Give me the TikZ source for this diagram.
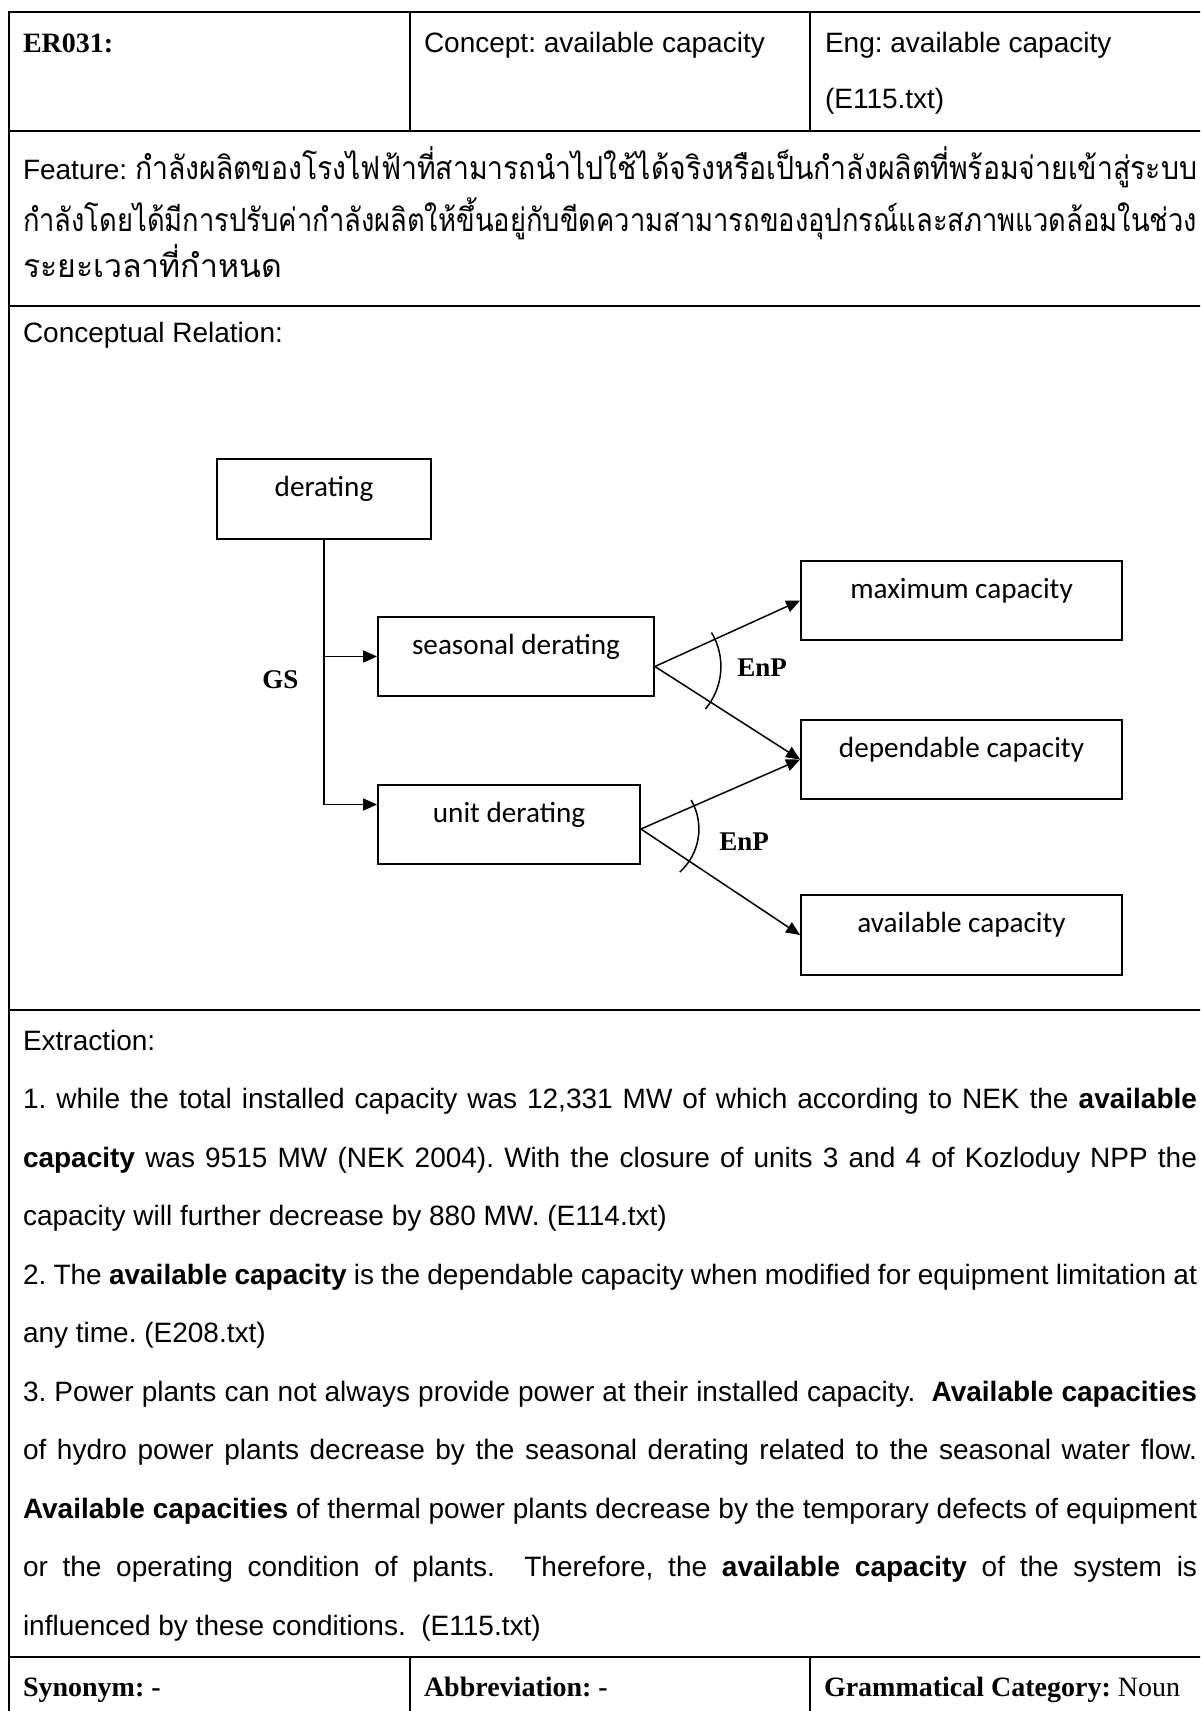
\documentclass[tikz,border=0pt]{standalone}
\usepackage{fontspec}
\usepackage{graphicx}
\usetikzlibrary{arrows.meta,calc}
\setmainfont{Liberation Sans}
\newfontfamily\tnr{Liberation Serif}
\newfontfamily\calfont{Carlito}
\newfontfamily\thaifont[Script=Thai]{Loma}
\newcommand\thtext{\thaifont\fontsize{16}{18}\selectfont}
\frenchspacing

\begin{document}
\begin{tikzpicture}[x=0.5pt,y=-0.5pt,
  tbl/.style={line width=1.1pt},
  txt/.style={anchor=base west, inner sep=0pt, outer sep=0pt, font=\fontsize{14}{16}\selectfont},
  hdr/.style={txt, font=\fontsize{14}{16}\selectfont\tnr\bfseries},
  box/.style={draw, line width=0.9pt, rectangle, inner sep=0pt, minimum height=39.5pt},
  boxtext/.style={anchor=base, inner sep=0pt, font=\fontsize{14.6}{16}\selectfont\calfont},
  rel/.style={anchor=base west, inner sep=0pt, font=\fontsize{13.5}{15}\selectfont\tnr\bfseries},
  conn/.style={line width=0.75pt, -{Triangle[length=7pt,width=6pt]}},
  arcline/.style={line width=0.75pt}]

\useasboundingbox (0,0) rectangle (1200,1711);
\clip (0,0) rectangle (1200,1711);
\fill[white] (0,0) rectangle (1200,1711);

% table frame
\draw[tbl] (9,1730) -- (9,12) -- (1230,12);
\foreach \y in {131,306,1010,1657} \draw[tbl] (9,\y) -- (1230,\y);
\foreach \x in {410,810} {
  \draw[tbl] (\x,12) -- (\x,131);
  \draw[tbl] (\x,1657) -- (\x,1730);
}

% header row
\node[hdr] (id) at (23,53) {ER031:};
\node[txt] (concept) at (424,53) {Concept: available capacity};
\node[txt] (eng) at (825,53) {Eng: available capacity};
\node[txt] (engsrc) at (825,109) {(E115.txt)};

% feature
\node[txt] (feat1) at (23,180) {Feature: \resizebox{531pt}{\height}{\thtext กำลังผลิตของโรงไฟฟ้าที่สามารถนำไปใช้ได้จริงหรือเป็นกำลังผลิตที่พร้อมจ่ายเข้าสู่ระบบ}};
\node[txt] (feat2) at (23,232) {\resizebox{587pt}{\height}{\thtext กำลังโดยได้มีการปรับค่ากำลังผลิตให้ขึ้นอยู่กับขีดความสามารถของอุปกรณ์และสภาพแวดล้อมในช่วง}};
\node[txt] (feat3) at (23,278) {\thtext ระยะเวลาที่กำหนด};

% conceptual relation
\node[txt] (crel) at (23,343) {Conceptual Relation:};

\node[box, minimum width=107pt, minimum height=40pt] (der) at (324,499) {};
\node[box, minimum width=138pt] (sea) at (516,656.5) {};
\node[box, minimum width=131pt] (uni) at (509,824.5) {};
\node[box, minimum width=160.5pt] (max) at (961.5,600.5) {};
\node[box, minimum width=160.5pt] (dep) at (961.5,759.5) {};
\node[box, minimum width=160.5pt, minimum height=40pt] (ava) at (961.5,935) {};

\node[boxtext] (derT) at ($(der.north)+(0,38)$) {derating};
\node[boxtext] (seaT) at ($(sea.north)+(0,38)$) {seasonal derating};
\node[boxtext] (uniT) at ($(uni.north)+(0,38)$) {unit derating};
\node[boxtext] (maxT) at ($(max.north)+(0,38)$) {maximum capacity};
\node[boxtext] (depT) at ($(dep.north)+(0,38)$) {dependable capacity};
\node[boxtext] (avaT) at ($(ava.north)+(0,38)$) {available capacity};

% generalisation branches
\coordinate (uin) at ($(uni.west)+(0,-20)$);
\draw[conn] (der.south) |- (uin);
\draw[conn] (der.south |- sea.west) -- (sea.west);

% part-of fans
\coordinate (sa) at ($(sea.east)+(0,10)$);
\coordinate (ua) at ($(uni.east)+(0,4.5)$);
\draw[conn] (sa) -- (max.west);
\draw[conn] (sa) -- (dep.west);
\draw[conn] (ua) -- (dep.west);
\draw[conn] (ua) -- (ava.west);

\draw[arcline] ($(sa)+(-31:66)$) arc[start angle=-31, end angle=40, radius=66];
\draw[arcline] ($(ua)+(-30:58)$) arc[start angle=-30, end angle=48, radius=58];

\node[rel] (gs) at (262,688) {GS};
\node[rel] (enp1) at (737,676) {EnP};
\node[rel] (enp2) at (719,850) {EnP};

% extraction
\node[txt] (ex0) at (23,1050) {Extraction:};
\node[txt] (ex1) at (23,1108.5) {\makebox[587pt][s]{1. while the total installed capacity was 12,331 MW of which according to NEK the \textbf{available}}};
\node[txt] (ex2) at (23,1167) {\makebox[587pt][s]{\textbf{capacity} was 9515 MW (NEK 2004). With the closure of units 3 and 4 of Kozloduy NPP the}};
\node[txt] (ex3) at (23,1225.5) {capacity will further decrease by 880 MW. (E114.txt)};
\node[txt] (ex4) at (23,1284) {\makebox[587pt][s]{2. The \textbf{available capacity} is the dependable capacity when modified for equipment limitation at}};
\node[txt] (ex5) at (23,1342.5) {any time. (E208.txt)};
\node[txt] (ex6) at (23,1401) {\makebox[587pt][s]{3. Power plants can not always provide power at their installed capacity.\ \ \textbf{Available capacities}}};
\node[txt] (ex7) at (23,1459.5) {\makebox[587pt][s]{of hydro power plants decrease by the seasonal derating related to the seasonal water flow.}};
\node[txt] (ex8) at (23,1518) {\makebox[587pt][s]{\textbf{Available capacities} of thermal power plants decrease by the temporary defects of equipment}};
\node[txt] (ex9) at (23,1576.5) {\makebox[587pt][s]{or the operating condition of plants.\ \ Therefore, the \textbf{available capacity} of the system is}};
\node[txt] (ex10) at (23,1635) {influenced by these conditions.\ \ (E115.txt)};

% bottom row
\node[hdr] (syn) at (23,1696) {Synonym: -};
\node[hdr] (abbr) at (424,1696) {Abbreviation: -};
\node[hdr] (gram) at (824,1696) {Grammatical Category: {\mdseries Noun}};
\end{tikzpicture}
\end{document}
